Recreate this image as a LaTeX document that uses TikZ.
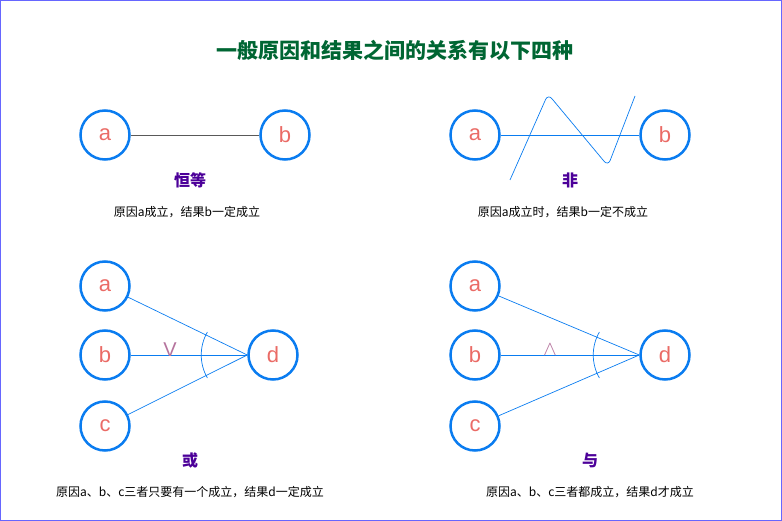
\documentclass[tikz,border=0pt]{standalone}
\usepackage{fontspec}
\setmainfont{Liberation Sans}
\newfontfamily\cjk{Noto Sans CJK SC}
\usepackage{xcolor}
\definecolor{ringblue}{HTML}{0A7CF0}
\definecolor{letterred}{HTML}{EA6B66}
\definecolor{titlegreen}{HTML}{006633}
\definecolor{namepurple}{HTML}{4C0099}
\definecolor{opmauve}{HTML}{B5739D}
\tikzset{
  event/.style={circle,draw=ringblue,line width=2.5pt,minimum size=49pt,inner sep=0pt,
    text=letterred,font=\fontsize{22}{22}\selectfont},
  link/.style={draw=ringblue,line width=0.7pt},
  relname/.style={text=namepurple,font=\cjk\bfseries\fontsize{16}{16}\selectfont},
  relnote/.style={font=\cjk\fontsize{12}{12}\selectfont},
  opsign/.style={text=opmauve,font=\fontsize{20}{20}\selectfont}
}
\begin{document}
\begin{tikzpicture}[x=1pt,y=-1pt]
\draw[blue!60,line width=0.6pt] (0.5,0.5) rectangle (781.5,520.5);
\useasboundingbox (0,0) rectangle (782,521);
\node[text=titlegreen,font=\cjk\bfseries\fontsize{21}{21}\selectfont] (title) at (395,50) {一般原因和结果之间的关系有以下四种};

% identity
\node[event] (a1) at (105,135) {a};
\node[event] (b1) at (285,135) {b};
\draw[gray!70!black,line width=0.6pt] (a1) -- (b1);
\node[relname] (n1) at (190,180) {恒等};
\node[relnote] (t1) at (187,212) {原因a成立，结果b一定成立};

% negation
\node[event] (a2) at (475,135) {a};
\node[event] (b2) at (665,135) {b};
\draw[link] (a2) -- (b2);
\draw[link,rounded corners=6pt] (510,180) -- (548,94) -- (608,166) -- (635,96);
\node[relname] (n2) at (570,180) {非};
\node[relnote] (t2) at (563,212) {原因a成立时，结果b一定不成立};

% or
\node[event] (a3) at (105,286) {a};
\node[event] (b3) at (105,355) {b};
\node[event] (c3) at (105,426) {c};
\node[event] (d3) at (273,355) {d};
\foreach \s in {a3,b3,c3} \draw[link] (\s) -- (d3.west);
\draw[link] ([shift={(150:46pt)}]d3.west) arc[start angle=150,end angle=210,radius=46pt];
\node[opsign] (o3) at (170,350) {V};
\node[relname] (n3) at (190,460) {或};
\node[relnote] (t3) at (190,492) {原因a、b、c三者只要有一个成立，结果d一定成立};

% and
\node[event] (a4) at (475,286) {a};
\node[event] (b4) at (475,355) {b};
\node[event] (c4) at (475,426) {c};
\node[event] (d4) at (665,355) {d};
\foreach \s in {a4,b4,c4} \draw[link] (\s) -- (d4.west);
\draw[link] ([shift={(150:46pt)}]d4.west) arc[start angle=150,end angle=210,radius=46pt];
\node[opsign] (o4) at (550,350) {$\wedge$};
\node[relname] (n4) at (590,460) {与};
\node[relnote] (t4) at (590,492) {原因a、b、c三者都成立，结果d才成立};
\end{tikzpicture}
\end{document}
